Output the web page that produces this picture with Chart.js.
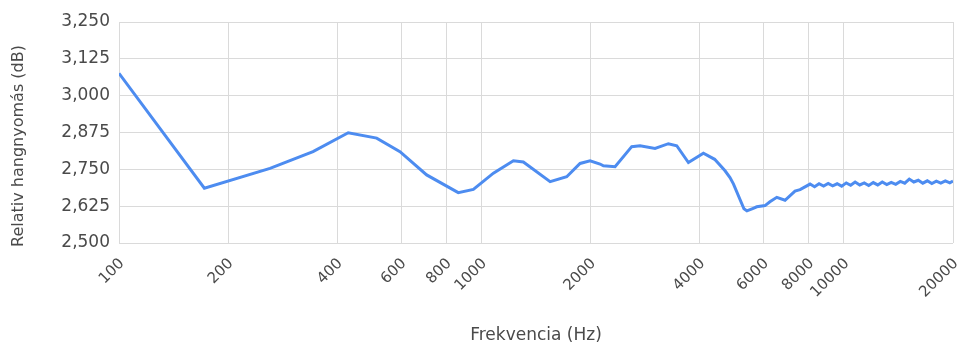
<!DOCTYPE html>
<html>
<head>
<meta charset="utf-8">
<script src="https://cdn.jsdelivr.net/npm/chart.js@4/dist/chart.umd.min.js"></script>
<style>
  html, body { margin: 0; padding: 0; background: #ffffff; }
  #wrap { width: 963px; height: 347px; }
</style>
</head>
<body>
<div id="wrap"><canvas id="chart" width="963" height="347"></canvas></div>
<script>
// Frequency response: relative sound pressure vs. frequency
const frequencies = [
  100, 172, 261, 343, 429, 514, 596, 706, 863, 950,
  1079, 1225, 1305, 1547, 1719, 1871, 1994, 2124, 2170, 2337,
  2598, 2739, 3013, 3279, 3458, 3724, 4096, 4400, 4700, 4850,
  4960, 5300, 5400, 5600, 5750, 6060, 6250, 6530, 6880, 7330,
  7570, 8066, 8300, 8540, 8790, 9050, 9310, 9580, 9860, 10150,
  10440, 10740, 11060, 11380, 11710, 12050, 12400, 12760, 13130, 13510,
  13900, 14310, 14720, 15150, 15590, 16040, 16510, 16990, 17480, 17990,
  18510, 19050, 19600, 20000
];
const levels = [
  3.076, 2.686, 2.753, 2.810, 2.874, 2.856, 2.810, 2.731, 2.671, 2.682,
  2.737, 2.779, 2.775, 2.708, 2.725, 2.770, 2.779, 2.768, 2.762, 2.759,
  2.827, 2.830, 2.821, 2.837, 2.830, 2.773, 2.805, 2.784, 2.745, 2.722,
  2.700, 2.616, 2.609, 2.617, 2.623, 2.627, 2.640, 2.655, 2.645, 2.676,
  2.681, 2.700, 2.691, 2.701, 2.693, 2.702, 2.694, 2.701, 2.693, 2.704,
  2.696, 2.707, 2.697, 2.704, 2.695, 2.705, 2.697, 2.707, 2.698, 2.706,
  2.699, 2.709, 2.703, 2.717, 2.707, 2.713, 2.703, 2.711, 2.702, 2.710,
  2.703, 2.711, 2.704, 2.710
];
const xTickValues = [100, 200, 400, 600, 800, 1000, 2000, 4000, 6000, 8000, 10000, 20000];
const yTickValues = [2.5, 2.625, 2.75, 2.875, 3.0, 3.125, 3.25];
const xTitle = 'Frekvencia (Hz)';
const yTitle = 'Relativ hangnyomás (dB)';

const FONT = 'DejaVu Sans';
const TEXT = '#4a4a4a';
const GRID = '#dadada';

const points = frequencies.map((f, i) => ({ x: f, y: levels[i] }));

// Axis titles drawn at fixed spots around the plot area
const axisTitles = {
  id: 'axisTitles',
  afterDraw(chart) {
    const ctx = chart.ctx;
    const area = chart.chartArea;
    ctx.save();
    ctx.fillStyle = TEXT;
    ctx.textAlign = 'center';
    ctx.textBaseline = 'middle';
    ctx.font = '17px "' + FONT + '"';
    ctx.fillText(xTitle, (area.left + area.right) / 2, 336);
    ctx.translate(19, 146);
    ctx.rotate(-Math.PI / 2);
    ctx.font = '16px "' + FONT + '"';
    ctx.fillText(yTitle, 0, 0);
    ctx.restore();
  }
};

// Fixed axis sizes keep the plot area in place
function fixX(s) { s.height = 104; s.paddingLeft = 0; s.paddingRight = 0; }
function fixY(s) { s.width = 119; s.paddingTop = 0; s.paddingBottom = 0; }

new Chart(document.getElementById('chart'), {
  type: 'line',
  data: {
    datasets: [{
      data: points,
      borderColor: '#4d8cf0',
      borderWidth: 3,
      pointRadius: 0,
      tension: 0,
      fill: false
    }]
  },
  options: {
    responsive: false,
    animation: false,
    devicePixelRatio: 1,
    layout: { padding: { top: 22, right: 10, left: 0, bottom: 0 }, autoPadding: false },
    plugins: { legend: { display: false }, tooltip: { enabled: false } },
    scales: {
      x: {
        type: 'logarithmic',
        min: 100,
        max: 20000,
        afterBuildTicks: s => { s.ticks = xTickValues.map(v => ({ value: v })); },
        afterFit: fixX,
        grid: { color: GRID, lineWidth: 1, drawTicks: false },
        border: { display: false },
        ticks: {
          autoSkip: false,
          minRotation: 45,
          maxRotation: 45,
          padding: 12,
          labelOffset: 3,
          color: TEXT,
          font: { family: FONT, size: 15 },
          callback: v => String(v)
        }
      },
      y: {
        type: 'linear',
        min: 2.5,
        max: 3.25,
        afterBuildTicks: s => { s.ticks = yTickValues.map(v => ({ value: v })); },
        afterFit: fixY,
        grid: { color: GRID, lineWidth: 1, drawTicks: false },
        border: { display: false },
        ticks: {
          padding: 9,
          color: TEXT,
          font: { family: FONT, size: 17 },
          callback: v => Number(v).toFixed(3).replace('.', ',')
        }
      }
    }
  },
  plugins: [axisTitles]
});
</script>
</body>
</html>
